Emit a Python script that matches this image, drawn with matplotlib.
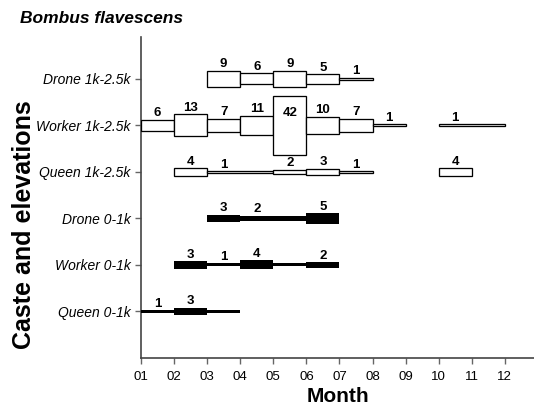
import matplotlib.pyplot as plt

plt.rcParams['font.family'] = ['Liberation Sans', 'DejaVu Sans']

rows = ['Queen 0-1k', 'Worker 0-1k', 'Drone 0-1k',
        'Queen 1k-2.5k', 'Worker 1k-2.5k', 'Drone 1k-2.5k']
months = ['01', '02', '03', '04', '05', '06', '07', '08', '09', '10', '11', '12']

# month segments per row: start, end, count, shown label
queen_low_start = [1, 2, 3]
queen_low_end = [2, 3, 4]
queen_low_n = [1, 3, 1]
queen_low_lab = ['1', '3', '']

worker_low_start = [2, 3, 4, 5, 6]
worker_low_end = [3, 4, 5, 6, 7]
worker_low_n = [3, 1, 4, 1, 2]
worker_low_lab = ['3', '1', '4', '', '2']

drone_low_start = [3, 4, 6]
drone_low_end = [4, 6, 7]
drone_low_n = [3, 2, 5]
drone_low_lab = ['3', '2', '5']

queen_high_start = [2, 3, 5, 6, 7, 10]
queen_high_end = [3, 5, 6, 7, 8, 11]
queen_high_n = [4, 1, 2, 3, 1, 4]
queen_high_lab = ['4', '1', '2', '3', '1', '4']

worker_high_start = [1, 2, 3, 4, 5, 6, 7, 8, 10]
worker_high_end = [2, 3, 4, 5, 6, 7, 8, 9, 12]
worker_high_n = [6, 13, 7, 11, 42, 10, 7, 1, 1]
worker_high_lab = ['6', '13', '7', '11', '42', '10', '7', '1', '1']

drone_high_start = [3, 4, 5, 6, 7]
drone_high_end = [4, 5, 6, 7, 8]
drone_high_n = [9, 6, 9, 5, 1]
drone_high_lab = ['9', '6', '9', '5', '1']

segments = [
    (queen_low_start, queen_low_end, queen_low_n, queen_low_lab),
    (worker_low_start, worker_low_end, worker_low_n, worker_low_lab),
    (drone_low_start, drone_low_end, drone_low_n, drone_low_lab),
    (queen_high_start, queen_high_end, queen_high_n, queen_high_lab),
    (worker_high_start, worker_high_end, worker_high_n, worker_high_lab),
    (drone_high_start, drone_high_end, drone_high_n, drone_high_lab),
]

px_per_unit = 46.5   # y axis pixels per row
edge_px = 1.3


def bar_height(n, edge):
    # bar thickness grows a bit slower than the count
    return (3.0 * n ** 0.8 - edge) / px_per_unit


fig = plt.figure(figsize=(5.34, 4.08), dpi=100)
ax = fig.add_axes([0.264, 0.1225, 0.736, 0.787])

for i, (starts, ends, counts, labels) in enumerate(segments):
    y = i + 1
    high = i >= 3
    for s, e, n, lab in zip(starts, ends, counts, labels):
        if high:
            h = bar_height(n, edge_px)
            ax.bar(s, h, width=e - s, bottom=y - h / 2, align='edge',
                   facecolor='white', edgecolor='black',
                   linewidth=edge_px * 72 / 100, zorder=3)
        else:
            h = bar_height(n, 0)
            ax.bar(s, h, width=e - s, bottom=y - h / 2, align='edge',
                   facecolor='black', edgecolor='none', zorder=3)
        if not lab:
            continue
        if n > 20:
            # big box: label sits inside, near the top
            ax.annotate(lab, (s + 0.5, y + h / 2), xytext=(0, -8),
                        textcoords='offset points', ha='center', va='top',
                        fontsize=9.5, fontweight='bold', zorder=4)
        else:
            ax.annotate(lab, (s + 0.5, y + h / 2), xytext=(0, 2.5),
                        textcoords='offset points', ha='center', va='baseline',
                        fontsize=9.5, fontweight='bold', zorder=4)

ax.set_xlim(1, 12.88)
ax.set_ylim(0, 6.9)
ax.set_xticks(range(1, 13))
ax.set_xticklabels(months, fontsize=9.5)
ax.set_yticks(range(1, 7))
ax.set_yticklabels(rows, fontsize=10, style='italic')

for side in ['top', 'right']:
    ax.spines[side].set_visible(False)
for side in ['left', 'bottom']:
    ax.spines[side].set_color('#444444')
    ax.spines[side].set_linewidth(1.2)
ax.tick_params(axis='both', length=4, width=1, color='#666666')
ax.tick_params(axis='x', pad=5)

fig.text(0.633, 0.015, 'Month', fontsize=15, fontweight='bold',
         ha='center', va='baseline')
fig.text(0.045, 0.449, 'Caste and elevations', fontsize=18, fontweight='bold',
         rotation=90, ha='center', va='center')
fig.text(0.037, 0.955, 'Bombus flavescens', fontsize=12.5, fontweight='bold',
         style='italic', va='center')

plt.savefig('out.png', dpi=100)
